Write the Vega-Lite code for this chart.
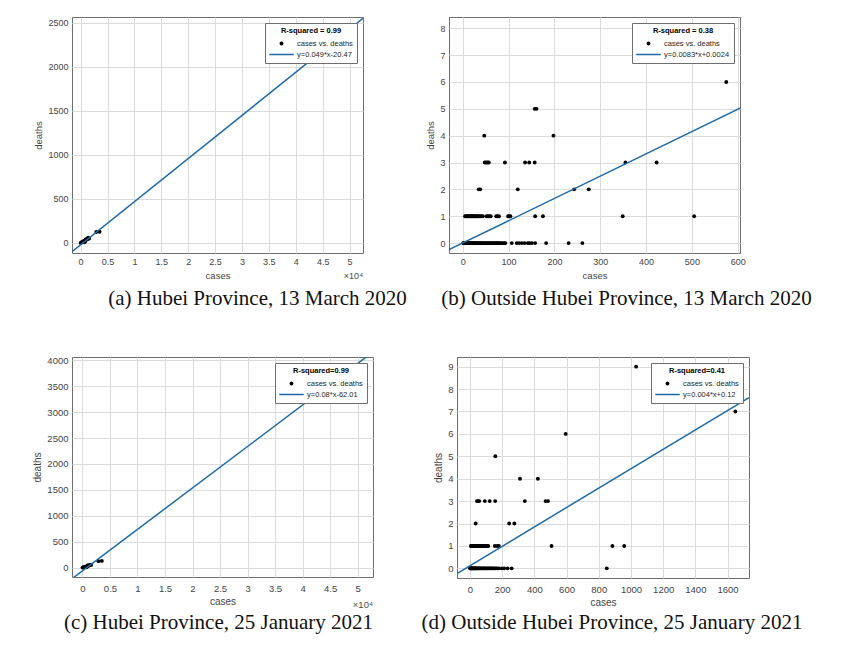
{
  "$schema": "https://vega.github.io/schema/vega-lite/v6.json",
  "padding": {"left": 32, "top": 16, "right": 5, "bottom": 5},
  "background": "white",
  "datasets": {
    "a": [
      {"cases": 49965, "deaths": 2430}, {"cases": 3518, "deaths": 128}, {"cases": 2907, "deaths": 125},
      {"cases": 1580, "deaths": 51}, {"cases": 1394, "deaths": 59}, {"cases": 1307, "deaths": 45},
      {"cases": 1175, "deaths": 40}, {"cases": 1015, "deaths": 39}, {"cases": 931, "deaths": 37},
      {"cases": 928, "deaths": 41}, {"cases": 836, "deaths": 15}, {"cases": 672, "deaths": 8},
      {"cases": 575, "deaths": 22}, {"cases": 496, "deaths": 15}, {"cases": 252, "deaths": 7},
      {"cases": 198, "deaths": 9}, {"cases": 11, "deaths": 0}
    ],
    "a_fit": [{"cases": -1600, "deaths": -98.9}, {"cases": 52500, "deaths": 2552}],
    "b": [
      {"cases": 1, "deaths": 0}, {"cases": 2, "deaths": 0}, {"cases": 3, "deaths": 0}, {"cases": 4, "deaths": 0},
      {"cases": 5, "deaths": 0}, {"cases": 6, "deaths": 0}, {"cases": 7, "deaths": 0}, {"cases": 8, "deaths": 0},
      {"cases": 9, "deaths": 0}, {"cases": 10, "deaths": 0}, {"cases": 11, "deaths": 0}, {"cases": 12, "deaths": 0},
      {"cases": 13, "deaths": 0}, {"cases": 14, "deaths": 0}, {"cases": 15, "deaths": 0}, {"cases": 16, "deaths": 0},
      {"cases": 17, "deaths": 0}, {"cases": 18, "deaths": 0}, {"cases": 19, "deaths": 0}, {"cases": 20, "deaths": 0},
      {"cases": 22, "deaths": 0}, {"cases": 24, "deaths": 0}, {"cases": 25, "deaths": 0}, {"cases": 26, "deaths": 0},
      {"cases": 28, "deaths": 0}, {"cases": 30, "deaths": 0}, {"cases": 31, "deaths": 0}, {"cases": 33, "deaths": 0},
      {"cases": 35, "deaths": 0}, {"cases": 37, "deaths": 0}, {"cases": 39, "deaths": 0}, {"cases": 40, "deaths": 0},
      {"cases": 42, "deaths": 0}, {"cases": 44, "deaths": 0}, {"cases": 46, "deaths": 0}, {"cases": 48, "deaths": 0},
      {"cases": 50, "deaths": 0}, {"cases": 52, "deaths": 0}, {"cases": 54, "deaths": 0}, {"cases": 56, "deaths": 0},
      {"cases": 58, "deaths": 0}, {"cases": 60, "deaths": 0}, {"cases": 62, "deaths": 0}, {"cases": 64, "deaths": 0},
      {"cases": 66, "deaths": 0}, {"cases": 68, "deaths": 0}, {"cases": 70, "deaths": 0}, {"cases": 72, "deaths": 0},
      {"cases": 74, "deaths": 0}, {"cases": 76, "deaths": 0}, {"cases": 78, "deaths": 0}, {"cases": 80, "deaths": 0},
      {"cases": 82, "deaths": 0}, {"cases": 85, "deaths": 0}, {"cases": 88, "deaths": 0}, {"cases": 91, "deaths": 0},
      {"cases": 93, "deaths": 0}, {"cases": 107, "deaths": 0}, {"cases": 118, "deaths": 0}, {"cases": 123, "deaths": 0},
      {"cases": 129, "deaths": 0}, {"cases": 135, "deaths": 0}, {"cases": 142, "deaths": 0}, {"cases": 146, "deaths": 0},
      {"cases": 151, "deaths": 0}, {"cases": 158, "deaths": 0}, {"cases": 182, "deaths": 0}, {"cases": 231, "deaths": 0},
      {"cases": 261, "deaths": 0},
      {"cases": 5, "deaths": 1}, {"cases": 7, "deaths": 1}, {"cases": 9, "deaths": 1}, {"cases": 11, "deaths": 1},
      {"cases": 13, "deaths": 1}, {"cases": 15, "deaths": 1}, {"cases": 17, "deaths": 1}, {"cases": 19, "deaths": 1},
      {"cases": 21, "deaths": 1}, {"cases": 23, "deaths": 1}, {"cases": 25, "deaths": 1}, {"cases": 27, "deaths": 1},
      {"cases": 29, "deaths": 1}, {"cases": 31, "deaths": 1}, {"cases": 33, "deaths": 1}, {"cases": 35, "deaths": 1},
      {"cases": 38, "deaths": 1}, {"cases": 41, "deaths": 1}, {"cases": 44, "deaths": 1}, {"cases": 52, "deaths": 1},
      {"cases": 55, "deaths": 1}, {"cases": 58, "deaths": 1}, {"cases": 61, "deaths": 1}, {"cases": 73, "deaths": 1},
      {"cases": 76, "deaths": 1}, {"cases": 79, "deaths": 1}, {"cases": 99, "deaths": 1}, {"cases": 101, "deaths": 1},
      {"cases": 104, "deaths": 1}, {"cases": 158, "deaths": 1}, {"cases": 175, "deaths": 1}, {"cases": 349, "deaths": 1},
      {"cases": 505, "deaths": 1},
      {"cases": 35, "deaths": 2}, {"cases": 38, "deaths": 2}, {"cases": 120, "deaths": 2}, {"cases": 243, "deaths": 2},
      {"cases": 275, "deaths": 2},
      {"cases": 48, "deaths": 3}, {"cases": 51, "deaths": 3}, {"cases": 54, "deaths": 3}, {"cases": 57, "deaths": 3},
      {"cases": 92, "deaths": 3}, {"cases": 136, "deaths": 3}, {"cases": 145, "deaths": 3}, {"cases": 157, "deaths": 3},
      {"cases": 355, "deaths": 3}, {"cases": 423, "deaths": 3},
      {"cases": 47, "deaths": 4}, {"cases": 198, "deaths": 4},
      {"cases": 157, "deaths": 5}, {"cases": 161, "deaths": 5},
      {"cases": 575, "deaths": 6}
    ],
    "b_fit": [{"cases": -30, "deaths": -0.247}, {"cases": 605, "deaths": 5.02}],
    "c": [
      {"cases": 50354, "deaths": 3869}, {"cases": 3518, "deaths": 129}, {"cases": 2907, "deaths": 125},
      {"cases": 1580, "deaths": 52}, {"cases": 1394, "deaths": 59}, {"cases": 1307, "deaths": 45},
      {"cases": 1175, "deaths": 40}, {"cases": 1015, "deaths": 39}, {"cases": 931, "deaths": 37},
      {"cases": 928, "deaths": 41}, {"cases": 836, "deaths": 15}, {"cases": 672, "deaths": 8},
      {"cases": 575, "deaths": 22}, {"cases": 496, "deaths": 15}, {"cases": 252, "deaths": 7},
      {"cases": 198, "deaths": 9}, {"cases": 11, "deaths": 0}
    ],
    "c_fit": [{"cases": -1900, "deaths": -214}, {"cases": 52800, "deaths": 4162}],
    "d": [
      {"cases": 1, "deaths": 0}, {"cases": 3, "deaths": 0}, {"cases": 5, "deaths": 0}, {"cases": 7, "deaths": 0},
      {"cases": 9, "deaths": 0}, {"cases": 11, "deaths": 0}, {"cases": 13, "deaths": 0}, {"cases": 15, "deaths": 0},
      {"cases": 18, "deaths": 0}, {"cases": 21, "deaths": 0}, {"cases": 24, "deaths": 0}, {"cases": 27, "deaths": 0},
      {"cases": 30, "deaths": 0}, {"cases": 33, "deaths": 0}, {"cases": 36, "deaths": 0}, {"cases": 40, "deaths": 0},
      {"cases": 44, "deaths": 0}, {"cases": 48, "deaths": 0}, {"cases": 52, "deaths": 0}, {"cases": 56, "deaths": 0},
      {"cases": 60, "deaths": 0}, {"cases": 65, "deaths": 0}, {"cases": 70, "deaths": 0}, {"cases": 75, "deaths": 0},
      {"cases": 80, "deaths": 0}, {"cases": 85, "deaths": 0}, {"cases": 90, "deaths": 0}, {"cases": 95, "deaths": 0},
      {"cases": 100, "deaths": 0}, {"cases": 106, "deaths": 0}, {"cases": 112, "deaths": 0}, {"cases": 118, "deaths": 0},
      {"cases": 124, "deaths": 0}, {"cases": 130, "deaths": 0}, {"cases": 136, "deaths": 0}, {"cases": 142, "deaths": 0},
      {"cases": 148, "deaths": 0}, {"cases": 155, "deaths": 0}, {"cases": 162, "deaths": 0}, {"cases": 170, "deaths": 0},
      {"cases": 180, "deaths": 0}, {"cases": 197, "deaths": 0}, {"cases": 213, "deaths": 0}, {"cases": 234, "deaths": 0},
      {"cases": 259, "deaths": 0}, {"cases": 850, "deaths": 0},
      {"cases": 6, "deaths": 1}, {"cases": 10, "deaths": 1}, {"cases": 14, "deaths": 1}, {"cases": 18, "deaths": 1},
      {"cases": 22, "deaths": 1}, {"cases": 27, "deaths": 1}, {"cases": 32, "deaths": 1}, {"cases": 37, "deaths": 1},
      {"cases": 42, "deaths": 1}, {"cases": 48, "deaths": 1}, {"cases": 54, "deaths": 1}, {"cases": 60, "deaths": 1},
      {"cases": 66, "deaths": 1}, {"cases": 72, "deaths": 1}, {"cases": 78, "deaths": 1}, {"cases": 85, "deaths": 1},
      {"cases": 92, "deaths": 1}, {"cases": 100, "deaths": 1}, {"cases": 107, "deaths": 1}, {"cases": 114, "deaths": 1},
      {"cases": 155, "deaths": 1}, {"cases": 170, "deaths": 1}, {"cases": 180, "deaths": 1}, {"cases": 507, "deaths": 1},
      {"cases": 885, "deaths": 1}, {"cases": 958, "deaths": 1},
      {"cases": 36, "deaths": 2}, {"cases": 244, "deaths": 2}, {"cases": 276, "deaths": 2},
      {"cases": 44, "deaths": 3}, {"cases": 52, "deaths": 3}, {"cases": 58, "deaths": 3}, {"cases": 93, "deaths": 3},
      {"cases": 123, "deaths": 3}, {"cases": 157, "deaths": 3}, {"cases": 341, "deaths": 3}, {"cases": 470, "deaths": 3},
      {"cases": 485, "deaths": 3},
      {"cases": 311, "deaths": 4}, {"cases": 422, "deaths": 4},
      {"cases": 158, "deaths": 5},
      {"cases": 595, "deaths": 6},
      {"cases": 1648, "deaths": 7},
      {"cases": 1032, "deaths": 9}
    ],
    "d_fit": [{"cases": -80, "deaths": -0.23}, {"cases": 1733, "deaths": 7.62}],
    "exp": [{"t": "×10⁴"}]
  },
  "vconcat": [
    {
      "hconcat": [
        {
          "width": 291, "height": 236,
          "title": {"text": "(a) Hubei Province, 13 March 2020", "orient": "bottom", "frame": "group", "offset": 7, "dx": 40, "anchor": "middle"},
          "layer": [
            {
              "data": {"name": "a"},
              "mark": {"type": "point", "filled": true, "opacity": 1},
              "encoding": {
                "x": {"field": "cases", "type": "quantitative", "scale": {"domain": [-1600, 52500], "nice": false, "zero": false},
                      "axis": {"title": "cases", "values": [0, 5000, 10000, 15000, 20000, 25000, 30000, 35000, 40000, 45000, 50000], "tickCount": 30, "labelExpr": "datum.value/10000"}},
                "y": {"field": "deaths", "type": "quantitative", "scale": {"domain": [-114, 2568], "nice": false, "zero": false},
                      "axis": {"title": "deaths", "values": [0, 500, 1000, 1500, 2000, 2500], "tickCount": 30, "format": "d"}},
                "color": {"datum": "cases vs. deaths", "type": "nominal",
                  "scale": {"domain": ["cases vs. deaths", "y=0.049*x-20.47"], "range": ["#000000", "#1f6aa5"]},
                  "legend": {"title": "R-squared = 0.99"}},
                "shape": {"datum": "cases vs. deaths", "type": "nominal",
                  "scale": {"domain": ["cases vs. deaths", "y=0.049*x-20.47"], "range": ["circle", "M-1,-0.065H1V0.065H-1Z"]},
                  "legend": {"title": "R-squared = 0.99"}},
                "size": {"datum": "cases vs. deaths", "type": "nominal",
                  "scale": {"type": "ordinal", "domain": ["cases vs. deaths", "y=0.049*x-20.47"], "range": [15, 600]},
                  "legend": {"title": "R-squared = 0.99"}}
              }
            },
            {
              "data": {"name": "a_fit"},
              "mark": {"type": "line", "clip": true, "strokeWidth": 1.5, "color": "#1f6aa5"},
              "encoding": {
                "x": {"field": "cases", "type": "quantitative"},
                "y": {"field": "deaths", "type": "quantitative"}
              }
            },
            {
              "data": {"name": "exp"},
              "mark": {"type": "text", "align": "right", "baseline": "middle", "dy": 23, "fontSize": 9, "color": "#4a4a4a"},
              "encoding": {
                "x": {"datum": 52500, "type": "quantitative"},
                "y": {"datum": -114, "type": "quantitative"},
                "text": {"field": "t"}
              }
            }
          ]
        },
        {
          "width": 291, "height": 236,
          "title": {"text": "(b) Outside Hubei Province, 13 March 2020", "orient": "bottom", "frame": "group", "offset": 8, "dx": 32, "anchor": "middle"},
          "layer": [
            {
              "data": {"name": "b"},
              "mark": {"type": "point", "filled": true, "opacity": 1},
              "encoding": {
                "x": {"field": "cases", "type": "quantitative", "scale": {"domain": [-30, 605], "nice": false, "zero": false},
                      "axis": {"title": "cases", "values": [0, 100, 200, 300, 400, 500, 600], "tickCount": 30, "format": "d"}},
                "y": {"field": "deaths", "type": "quantitative", "scale": {"domain": [-0.37, 8.42], "nice": false, "zero": false},
                      "axis": {"title": "deaths", "values": [0, 1, 2, 3, 4, 5, 6, 7, 8], "tickCount": 30, "format": "d"}},
                "color": {"datum": "cases vs. deaths", "type": "nominal",
                  "scale": {"domain": ["cases vs. deaths", "y=0.0083*x+0.0024"], "range": ["#000000", "#1f6aa5"]},
                  "legend": {"title": "R-squared = 0.38"}},
                "shape": {"datum": "cases vs. deaths", "type": "nominal",
                  "scale": {"domain": ["cases vs. deaths", "y=0.0083*x+0.0024"], "range": ["circle", "M-1,-0.065H1V0.065H-1Z"]},
                  "legend": {"title": "R-squared = 0.38"}},
                "size": {"datum": "cases vs. deaths", "type": "nominal",
                  "scale": {"type": "ordinal", "domain": ["cases vs. deaths", "y=0.0083*x+0.0024"], "range": [15, 600]},
                  "legend": {"title": "R-squared = 0.38"}}
              }
            },
            {
              "data": {"name": "b_fit"},
              "mark": {"type": "line", "clip": true, "strokeWidth": 1.5, "color": "#1f6aa5"},
              "encoding": {
                "x": {"field": "cases", "type": "quantitative"},
                "y": {"field": "deaths", "type": "quantitative"}
              }
            }
          ]
        }
      ],
      "spacing": 86,
      "bounds": "flush",
      "resolve": {"scale": {"color": "independent", "shape": "independent", "size": "independent"}, "legend": {"color": "independent", "shape": "independent", "size": "independent"}}
    },
    {
      "hconcat": [
        {
          "width": 301, "height": 220,
          "title": {"text": "(c) Hubei Province, 25 January 2021", "orient": "bottom", "frame": "group", "offset": 2, "dx": -4, "anchor": "middle"},
          "layer": [
            {
              "data": {"name": "c"},
              "mark": {"type": "point", "filled": true, "opacity": 1},
              "encoding": {
                "x": {"field": "cases", "type": "quantitative", "scale": {"domain": [-1900, 52800], "nice": false, "zero": false},
                      "axis": {"title": "cases", "values": [0, 5000, 10000, 15000, 20000, 25000, 30000, 35000, 40000, 45000, 50000], "tickCount": 30, "labelExpr": "datum.value/10000", "labelPadding": 6, "labelFontSize": 9.5, "titleFontSize": 10}},
                "y": {"field": "deaths", "type": "quantitative", "scale": {"domain": [-181, 4064], "nice": false, "zero": false},
                      "axis": {"title": "deaths", "values": [0, 500, 1000, 1500, 2000, 2500, 3000, 3500, 4000], "tickCount": 30, "format": "d", "labelFontSize": 9.5, "titleFontSize": 10}},
                "color": {"datum": "cases vs. deaths", "type": "nominal",
                  "scale": {"domain": ["cases vs. deaths", "y=0.08*x-62.01"], "range": ["#000000", "#1f6aa5"]},
                  "legend": {"title": "R-squared=0.99"}},
                "shape": {"datum": "cases vs. deaths", "type": "nominal",
                  "scale": {"domain": ["cases vs. deaths", "y=0.08*x-62.01"], "range": ["circle", "M-1,-0.065H1V0.065H-1Z"]},
                  "legend": {"title": "R-squared=0.99"}},
                "size": {"datum": "cases vs. deaths", "type": "nominal",
                  "scale": {"type": "ordinal", "domain": ["cases vs. deaths", "y=0.08*x-62.01"], "range": [15, 600]},
                  "legend": {"title": "R-squared=0.99"}}
              }
            },
            {
              "data": {"name": "c_fit"},
              "mark": {"type": "line", "clip": true, "strokeWidth": 1.5, "color": "#1f6aa5"},
              "encoding": {
                "x": {"field": "cases", "type": "quantitative"},
                "y": {"field": "deaths", "type": "quantitative"}
              }
            },
            {
              "data": {"name": "exp"},
              "mark": {"type": "text", "align": "right", "baseline": "middle", "dy": 28, "fontSize": 9.5, "color": "#4a4a4a"},
              "encoding": {
                "x": {"datum": 52800, "type": "quantitative"},
                "y": {"datum": -181, "type": "quantitative"},
                "text": {"field": "t"}
              }
            }
          ]
        },
        {
          "width": 292, "height": 221,
          "title": {"text": "(d) Outside Hubei Province, 25 January 2021", "orient": "bottom", "frame": "group", "offset": 4, "dx": 9, "anchor": "middle"},
          "layer": [
            {
              "data": {"name": "d"},
              "mark": {"type": "point", "filled": true, "opacity": 1},
              "encoding": {
                "x": {"field": "cases", "type": "quantitative", "scale": {"domain": [-80, 1733], "nice": false, "zero": false},
                      "axis": {"title": "cases", "values": [0, 200, 400, 600, 800, 1000, 1200, 1400, 1600], "tickCount": 30, "format": "d", "labelPadding": 6, "labelFontSize": 9.5, "titleFontSize": 10}},
                "y": {"field": "deaths", "type": "quantitative", "scale": {"domain": [-0.43, 9.43], "nice": false, "zero": false},
                      "axis": {"title": "deaths", "values": [0, 1, 2, 3, 4, 5, 6, 7, 8, 9], "tickCount": 30, "format": "d", "labelFontSize": 9.5, "titleFontSize": 10}},
                "color": {"datum": "cases vs. deaths", "type": "nominal",
                  "scale": {"domain": ["cases vs. deaths", "y=0.004*x+0.12"], "range": ["#000000", "#1f6aa5"]},
                  "legend": {"title": "R-squared=0.41"}},
                "shape": {"datum": "cases vs. deaths", "type": "nominal",
                  "scale": {"domain": ["cases vs. deaths", "y=0.004*x+0.12"], "range": ["circle", "M-1,-0.065H1V0.065H-1Z"]},
                  "legend": {"title": "R-squared=0.41"}},
                "size": {"datum": "cases vs. deaths", "type": "nominal",
                  "scale": {"type": "ordinal", "domain": ["cases vs. deaths", "y=0.004*x+0.12"], "range": [15, 600]},
                  "legend": {"title": "R-squared=0.41"}}
              }
            },
            {
              "data": {"name": "d_fit"},
              "mark": {"type": "line", "clip": true, "strokeWidth": 1.5, "color": "#1f6aa5"},
              "encoding": {
                "x": {"field": "cases", "type": "quantitative"},
                "y": {"field": "deaths", "type": "quantitative"}
              }
            }
          ]
        }
      ],
      "spacing": 84,
      "bounds": "flush",
      "resolve": {"scale": {"color": "independent", "shape": "independent", "size": "independent"}, "legend": {"color": "independent", "shape": "independent", "size": "independent"}}
    }
  ],
  "spacing": 44,
  "resolve": {"scale": {"color": "independent", "shape": "independent", "size": "independent"}, "legend": {"color": "independent", "shape": "independent", "size": "independent"}},
  "config": {
    "font": "Liberation Sans",
    "view": {"stroke": "#6e6e6e", "strokeWidth": 1},
    "axis": {
      "grid": true, "gridColor": "#dcdcdc", "domain": false, "ticks": false, "labelOverlap": false,
      "labelFontSize": 9, "labelColor": "#444444", "labelPadding": 4,
      "titleFontSize": 9.5, "titleFontWeight": "normal", "titleColor": "#444444", "titlePadding": 4
    },
    "legend": {
      "orient": "top-right", "offset": 6, "padding": 4,
      "fillColor": "white", "strokeColor": "#6e6e6e",
      "titleFontSize": 7.5, "titleFontWeight": "bold", "titleColor": "#000000", "titleAnchor": "middle", "titlePadding": 5,
      "labelFontSize": 7.5, "labelColor": "#262626",
      "labelOffset": 3, "rowPadding": 3, "symbolStrokeWidth": 0,
      "columns": 1, "clipHeight": 8
    },
    "title": {"font": "Liberation Serif", "fontSize": 21, "fontWeight": "normal", "color": "#111111", "baseline": "top"}
  }
}
